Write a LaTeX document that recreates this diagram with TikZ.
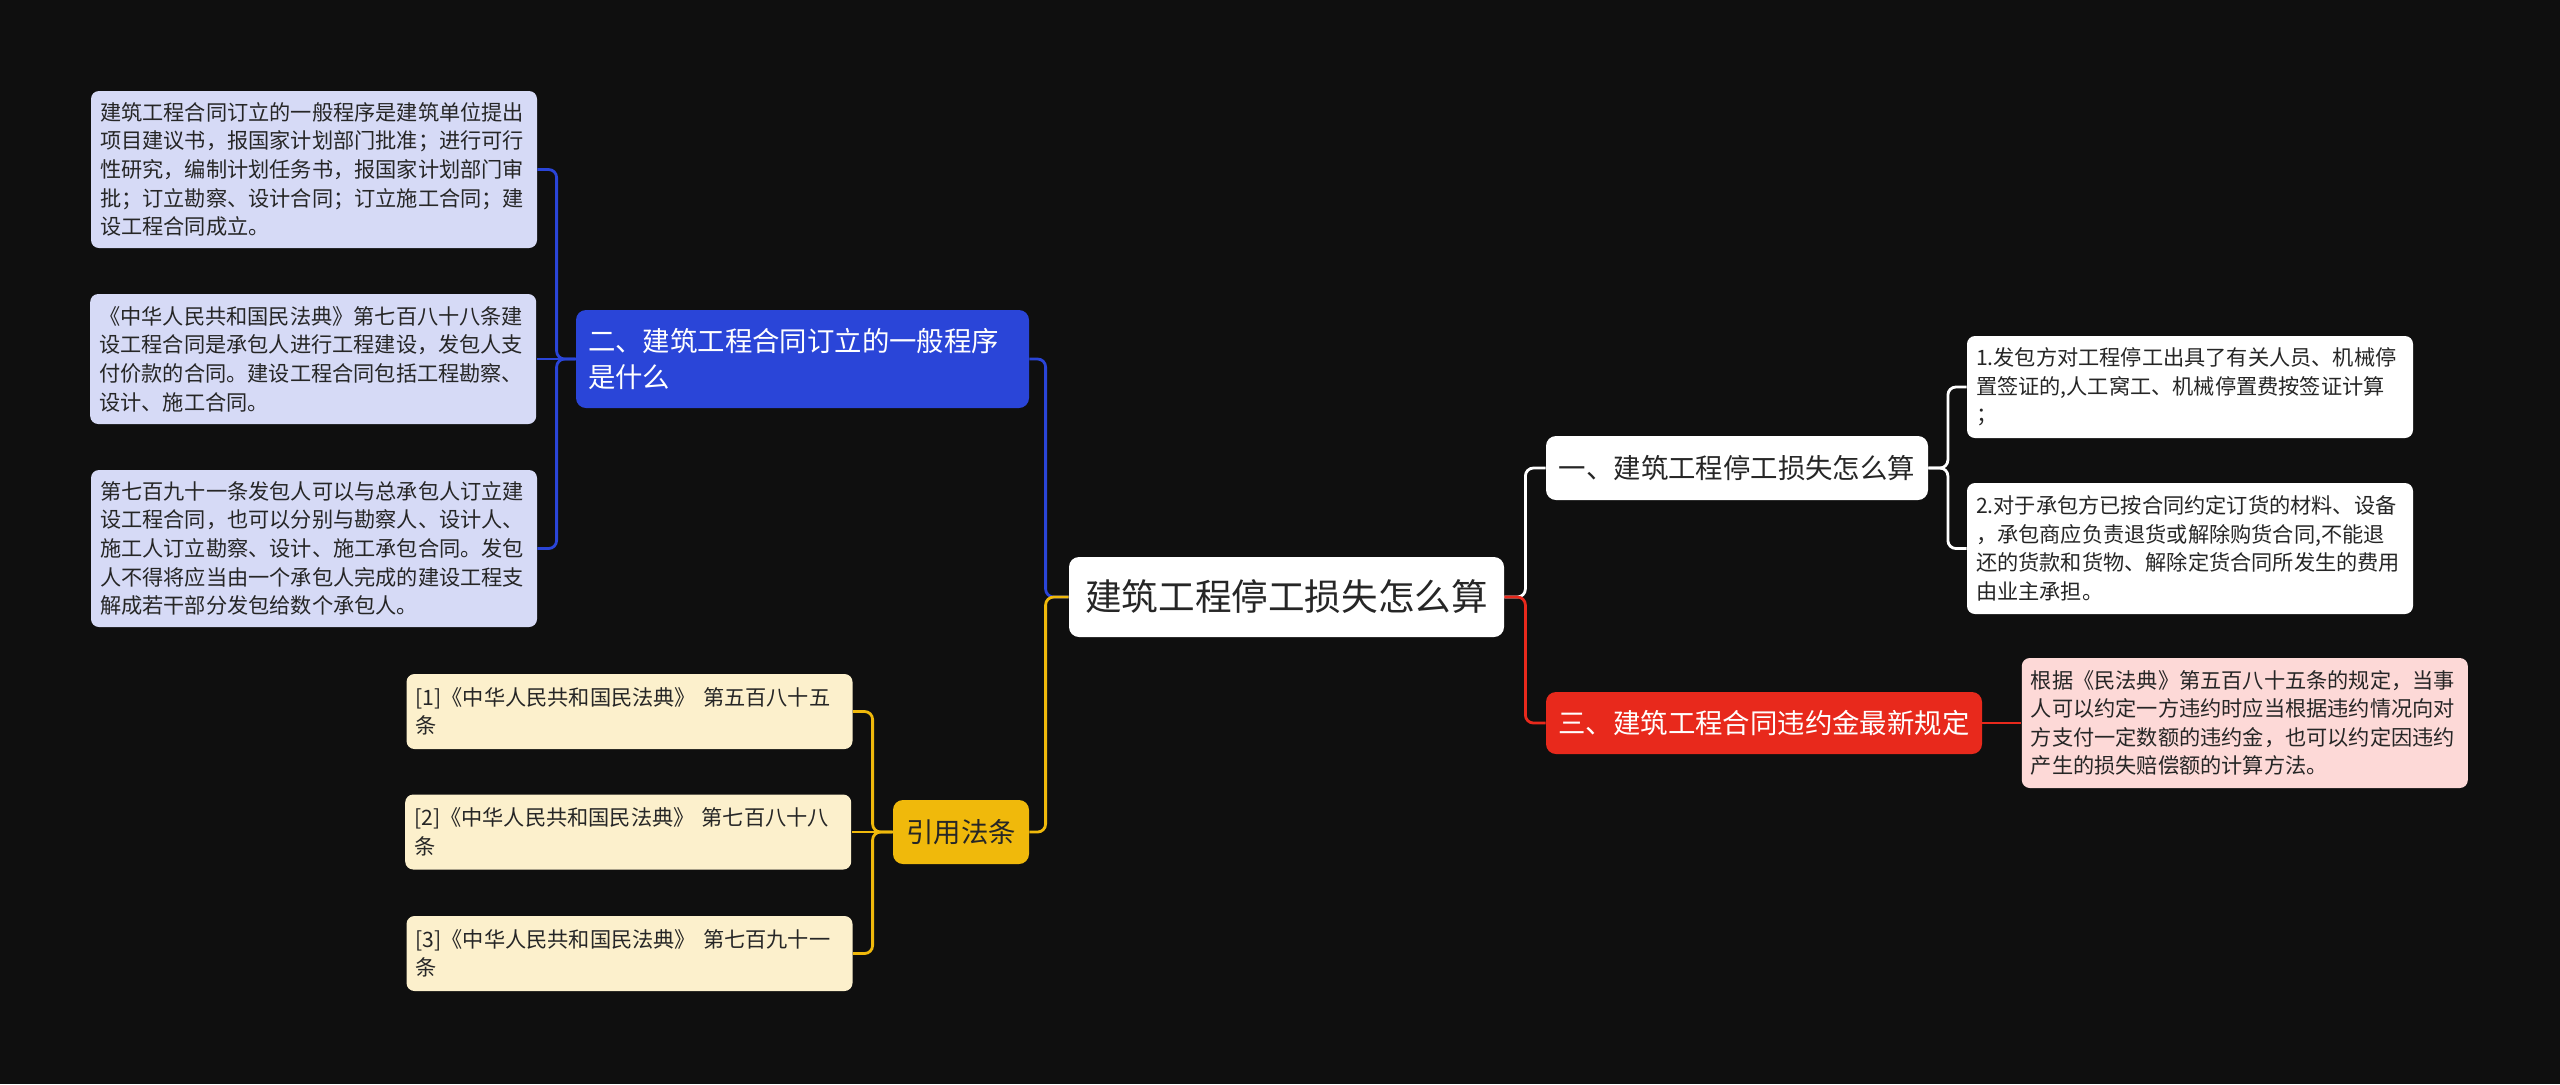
\documentclass[tikz,border=0pt]{standalone}
\usepackage{fontspec}
\newfontfamily\cjk{Noto Sans CJK SC}
\usetikzlibrary{positioning,calc}
\definecolor{bg}{HTML}{0F0F0F}
\definecolor{ink}{HTML}{262626}
\definecolor{blueA}{HTML}{2A45D8}
\definecolor{blueL}{HTML}{D6DAF6}
\definecolor{goldA}{HTML}{F0B90B}
\definecolor{goldL}{HTML}{FCF0CC}
\definecolor{redA}{HTML}{E8291C}
\definecolor{redL}{HTML}{FDD9D7}

\begin{document}
\begin{tikzpicture}[
    x=0.5pt, y=-0.5pt,
    leaf/.style={rounded corners=4pt, align=left, text width=214pt, inner xsep=4.5pt, inner ysep=2pt, text=ink, font=\cjk\fontsize{10.6}{14.3}\selectfont},
    topic/.style={rounded corners=5pt, align=left, inner xsep=6pt, inner ysep=2pt, font=\cjk\fontsize{13.7}{18}\selectfont},
    link/.style={line width=1.4pt, rounded corners=4pt}
]
\fill[bg] (0,0) rectangle (2560,1084);

\node[fill=white, rounded corners=5pt, text=ink, font=\cjk\fontsize{18.3}{22}\selectfont, minimum width=217.5pt, minimum height=40pt] (root) at (1286.5,597) {建筑工程停工损失怎么算};

\node[topic, fill=blueA, text=white, text width=214.5pt, minimum height=49pt] (proc) at (802.5,359) {二、建筑工程合同订立的一般程序\\是什么};
\node[topic, fill=goldA, text=ink, align=center, inner xsep=4pt, minimum width=68pt, minimum height=32pt] (cite) at (961,832) {引用法条};
\node[topic, fill=white, text=ink, minimum width=191pt, minimum height=32pt] (loss) at (1737,468) {一、建筑工程停工损失怎么算};
\node[topic, fill=redA, text=white, minimum width=218pt, minimum height=31pt] (fine) at (1764,723) {三、建筑工程合同违约金最新规定};

\node[leaf, fill=blueL, minimum height=78.5pt] (procA) at (314,169.5) {建筑工程合同订立的一般程序是建筑单位提出\\项目建议书，报国家计划部门批准；进行可行\\性研究，编制计划任务书，报国家计划部门审\\批；订立勘察、设计合同；订立施工合同；建\\设工程合同成立。};
\node[leaf, fill=blueL, minimum height=65pt, left=19.5pt of proc] (procB) {《中华人民共和国民法典》第七百八十八条建\\设工程合同是承包人进行工程建设，发包人支\\付价款的合同。建设工程合同包括工程勘察、\\设计、施工合同。};
\node[leaf, fill=blueL, minimum height=78.5pt] (procC) at (314,548.5) {第七百九十一条发包人可以与总承包人订立建\\设工程合同，也可以分别与勘察人、设计人、\\施工人订立勘察、设计、施工承包合同。发包\\人不得将应当由一个承包人完成的建设工程支\\解成若干部分发包给数个承包人。};

\node[leaf, fill=goldL, minimum height=37.5pt] (law1) at (629.5,711.5) {[1]《中华人民共和国民法典》 第五百八十五\\条};
\node[leaf, fill=goldL, minimum height=37.5pt, left=20.5pt of cite] (law2) {[2]《中华人民共和国民法典》 第七百八十八\\条};
\node[leaf, fill=goldL, minimum height=37.5pt] (law3) at (629.5,953.5) {[3]《中华人民共和国民法典》 第七百九十一\\条};

\node[leaf, fill=white, minimum height=51pt] (loss1) at (2190,387) {1.发包方对工程停工出具了有关人员、机械停\\置签证的,人工窝工、机械停置费按签证计算\\；};
\node[leaf, fill=white, minimum height=65.5pt] (loss2) at (2190,548.5) {2.对于承包方已按合同约定订货的材料、设备\\，承包商应负责退货或解除购货合同,不能退\\还的货款和货物、解除定货合同所发生的费用\\由业主承担。};

\node[leaf, fill=redL, minimum height=65pt, right=19.5pt of fine] (fine1) {根据《民法典》第五百八十五条的规定，当事\\人可以约定一方违约时应当根据违约情况向对\\方支付一定数额的违约金，也可以约定因违约\\产生的损失赔偿额的计算方法。};

\draw[link, blueA] (root.west) -- ++(-23,0) |- (proc.east);
\draw[link, goldA] (root.west) -- ++(-23,0) |- (cite.east);
\draw[link, white] (root.east) -- ++(21,0) |- (loss.west);
\draw[link, redA] (root.east) -- ++(21,0) |- (fine.west);

\draw[link, blueA] (proc.west) -- ++(-19,0) |- (procA.east);
\draw[link, blueA] (proc.west) -- (procB.east);
\draw[link, blueA] (proc.west) -- ++(-19,0) |- (procC.east);

\draw[link, goldA] (cite.west) -- ++(-20,0) |- (law1.east);
\draw[link, goldA] (cite.west) -- (law2.east);
\draw[link, goldA] (cite.west) -- ++(-20,0) |- (law3.east);

\draw[link, white] (loss.east) -- ++(19.5,0) |- (loss1.west);
\draw[link, white] (loss.east) -- ++(19.5,0) |- (loss2.west);

\draw[link, redA] (fine.east) -- (fine1.west);
\end{tikzpicture}
\end{document}
